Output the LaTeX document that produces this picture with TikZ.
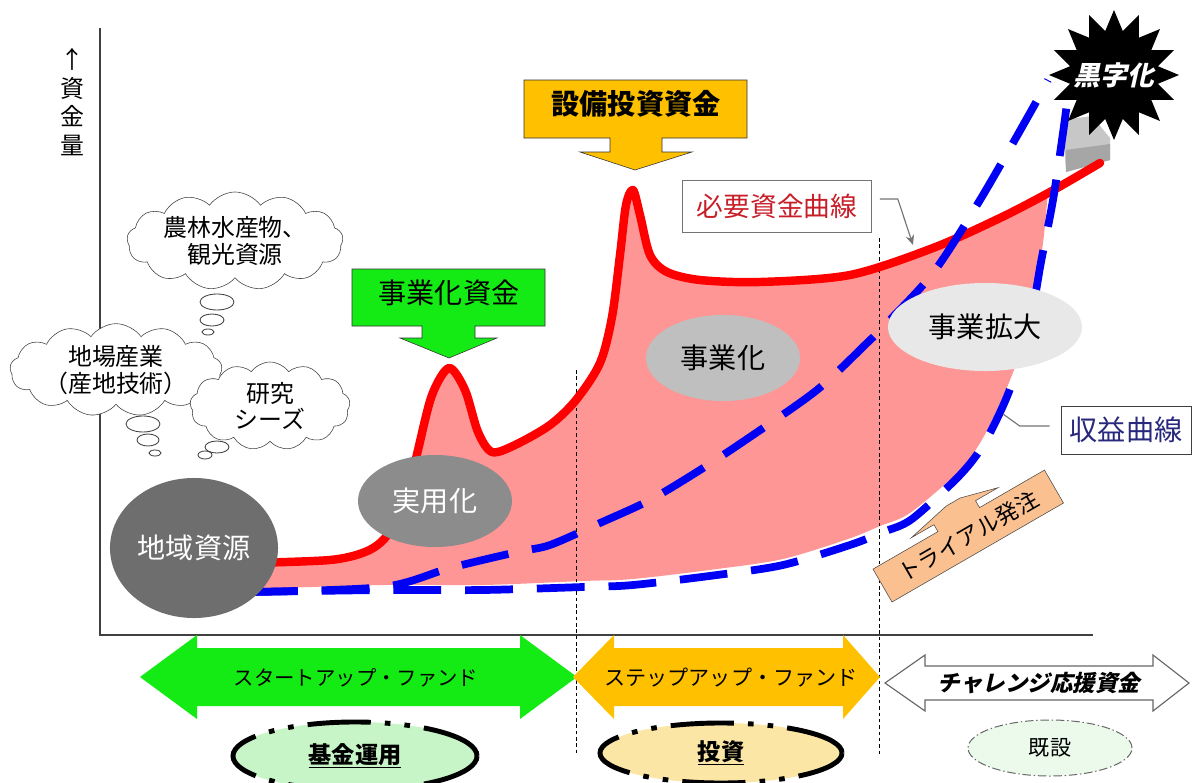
\documentclass[tikz,border=0pt]{standalone}
\usepackage{fontspec}
\setmainfont{Noto Sans CJK JP}
\newfontfamily\slantjp[FakeSlant=0.22]{Noto Sans CJK JP}
\usetikzlibrary{shapes.geometric,shapes.symbols,arrows.meta}
\definecolor{fundgreen}{RGB}{20,235,20}
\definecolor{fundyellow}{RGB}{255,192,0}
\definecolor{pinkfill}{RGB}{255,150,150}
\definecolor{needred}{RGB}{255,0,0}
\definecolor{gainblue}{RGB}{0,0,245}
\definecolor{trialtan}{RGB}{250,192,144}
\definecolor{labelred}{RGB}{200,30,40}
\definecolor{labelnavy}{RGB}{40,40,125}
\begin{document}
\begin{tikzpicture}[x=0.025cm,y=-0.025cm,
  cloudbox/.style={cloud, draw=black!75, fill=white, cloud puffs=13, cloud puff arc=110,
    cloud ignores aspect, inner sep=0pt, align=center, font=\fontsize{17}{19}\selectfont},
  bubble/.style={draw=black!75, fill=white, line width=0.6pt},
  stage/.style={ellipse, inner sep=0pt, font=\fontsize{20}{24}\selectfont},
  bandtext/.style={font=\fontsize{14.5}{17}\selectfont},
  redline/.style={needred, line width=6pt, line cap=round, line join=round},
  blueline/.style={gainblue, line width=5.5pt, dash pattern=on 34pt off 17pt},
  divider/.style={line width=0.6pt, dash pattern=on 2.5pt off 2pt},
  leader/.style={black!55, line width=0.8pt},
  fundring/.style={ellipse, inner sep=0pt, line width=3.5pt,
    dash pattern=on 45pt off 10pt on 4pt off 10pt on 4pt off 10pt},
  ]
  \useasboundingbox (0,0) rectangle (1193,783);

  % funding gap
  \fill[pinkfill] plot[smooth] coordinates {(250,563) (330,560) (365,552) (385,538) (405,505)
      (418,450) (432,395) (449,368) (465,390) (478,432) (492,452) (515,445) (550,425)
      (576,400) (600,363) (612,317) (620,255) (626,205) (633,190) (640,215) (650,255)
      (667,272) (700,280) (760,282) (850,275) (933,248) (1000,218) (1048,193)}
    -- plot[smooth] coordinates {(1044,235) (1037,285) (1026,335) (1008,385) (983,438)
      (958,472) (910,513) (880,526) (848,539) (783,559) (717,569) (633,579) (583,581)
      (483,585) (383,585) (250,589)} -- cycle;

  % axes
  \draw[black!75, line width=1pt] (100,28) -- (100,635) -- (1093,635);
  \node[align=center, font=\fontsize{17}{20.5}\selectfont] (ylabel) at (72,102) {↑\\資\\金\\量};

  \draw[divider] (576,370) -- (576,755);
  \draw[divider] (879,238) -- (879,755);

  % shadow block behind the star
  \fill[black!22] (1062,120) -- (1092,116) -- (1110,138) -- (1110,160) -- (1066,172) -- cycle;
  \fill[black!35] (1066,150) -- (1110,144) -- (1110,160) -- (1066,172) -- cycle;

  % curves
  \draw[redline] plot[smooth] coordinates {(250,563) (330,560) (365,552) (385,538) (405,505)
      (418,450) (432,395) (449,368) (465,390) (478,432) (492,452) (515,445) (550,425)
      (576,400) (600,363) (612,317) (620,255) (626,205) (633,190) (640,215) (650,255)
      (667,272) (700,280) (760,282) (850,275) (933,248) (1000,218) (1050,192) (1100,163)};
  \draw[blueline] plot[smooth] coordinates {(250,592) (383,587) (450,568) (517,552)
      (550,545) (600,523) (650,500) (700,470) (750,437) (817,390) (867,343) (883,327)
      (933,273) (980,200) (1030,113) (1048,80)};
  \draw[blueline] plot[smooth] coordinates {(250,592) (383,590) (483,590) (583,587)
      (633,585) (717,575) (783,565) (850,545) (883,532) (912,519) (960,475) (985,442)
      (1010,389) (1030,322) (1041,262) (1053,200) (1063,133) (1068,95)};

  % stages
  \node[stage, fill=black!57, text=white, minimum width=4.2cm, minimum height=3.5cm]
    (chiiki) at (194,548) {地域資源};
  \node[stage, fill=black!45, text=white, minimum width=3.85cm, minimum height=2.3cm]
    (jitsuyo) at (435,501) {実用化};
  \node[stage, fill=black!25, minimum width=3.85cm, minimum height=2.15cm]
    (jigyo) at (723,358) {事業化};
  \node[stage, fill=black!9, minimum width=4.85cm, minimum height=2.2cm]
    (kakudai) at (985,327) {事業拡大};

  % seeds
  \node[cloudbox, minimum width=5.4cm, minimum height=2.45cm]
    (nourin) at (235,241) {農林水産物、\\観光資源};
  \draw[bubble] (217,302) ellipse [x radius=17, y radius=8];
  \draw[bubble] (212,320) ellipse [x radius=12, y radius=6];
  \draw[bubble] (208,332) ellipse [x radius=6, y radius=3];
  \node[cloudbox, minimum width=5.3cm, minimum height=2.15cm]
    (jiba) at (116,370) {地場産業\\（産地技術）};
  \draw[bubble] (143,424) ellipse [x radius=17, y radius=8];
  \draw[bubble] (148,440) ellipse [x radius=11, y radius=6];
  \draw[bubble] (155,453) ellipse [x radius=6, y radius=3];
  \node[cloudbox, minimum width=4cm, minimum height=2.2cm]
    (kenkyu) at (270,406) {研究\\シーズ};
  \draw[bubble] (217,447) ellipse [x radius=12, y radius=6];
  \draw[bubble] (205,455) ellipse [x radius=7, y radius=4];

  % funding inflows
  \draw[black!80, fill=fundyellow] (524,80) -- (747,80) -- (747,138) -- (662,138)
    -- (662,152) -- (692,152) -- (635,170) -- (580,152) -- (610,152) -- (610,138)
    -- (524,138) -- cycle;
  \node[font=\fontsize{20}{24}\selectfont\bfseries] (setsubi) at (636,104) {設備投資資金};
  \draw[black!80, fill=fundgreen] (352,269) -- (545,269) -- (545,326) -- (475,326)
    -- (475,338) -- (497,338) -- (449,358) -- (400,338) -- (422,338) -- (422,326)
    -- (352,326) -- cycle;
  \node[font=\fontsize{20}{24}\selectfont] (jigyokashikin) at (449,293) {事業化資金};

  % curve labels
  \node[draw=black!55, fill=white, text=labelred, minimum width=4.725cm, minimum height=1.3cm,
    font=\fontsize{19}{22}\selectfont] (hitsuyo) at (777,206) {必要資金曲線};
  \coordinate (hitsuyoTip) at (913,245);
  \draw[leader, -{Stealth[length=7pt,width=6pt]}] ([shift={(8,-7)}]hitsuyo.east)
    -- ++(18,0) -- (hitsuyoTip);
  \node[draw=black!75, fill=white, text=labelnavy, minimum width=3.25cm, minimum height=1.2cm,
    font=\fontsize{20}{24}\selectfont] (shueki) at (1126,430) {収益曲線};
  \coordinate (shuekiEnd) at (1003,414);
  \draw[leader] ([shift={(-11,-4)}]shueki.west) -- ++(-30,0) -- (shuekiEnd);

  % break-even
  \node[star, star points=16, star point ratio=1.45, fill=black, inner sep=0pt,
    minimum size=3.25cm] (kuroji) at (1114,75) {};
  \node[text=white, font=\fontsize{19}{22}\selectfont\slantjp\bfseries]
    (kurojiText) at (kuroji.center) {黒字化};

  % trial order callout
  \begin{scope}[shift={(892,602)}, rotate=30]
    \draw[black!70, fill=trialtan] (0,0) -- (198,0) -- (198,-38) -- (123,-38) -- (123,-46)
      -- (149,-46) -- (111,-56) -- (95,-56) -- (49,-46) -- (75,-46) -- (75,-38)
      -- (0,-38) -- cycle;
    \node[rotate=30, font=\fontsize{16}{19}\selectfont] (trial) at (99,-19) {トライアル発注};
  \end{scope}

  % fund bands
  \fill[fundgreen] (140,677) -- (197,635) -- (197,648) -- (520,648) -- (520,635)
    -- (577,677) -- (520,719) -- (520,706) -- (197,706) -- (197,719) -- cycle;
  \node[bandtext] (startup) at (356,678) {スタートアップ・ファンド};
  \fill[fundyellow] (573,677) -- (614,635) -- (614,648) -- (843,648) -- (843,635)
    -- (880,677) -- (843,719) -- (843,706) -- (614,706) -- (614,719) -- cycle;
  \node[bandtext, font=\fontsize{15}{18}\selectfont] (stepup) at (731,678) {ステップアップ・ファンド};
  \draw[black!60, fill=white, line width=0.8pt] (885,683) -- (925,655) -- (925,666)
    -- (1153,666) -- (1153,655) -- (1189,683) -- (1153,711) -- (1153,700) -- (925,700)
    -- (925,711) -- cycle;
  \node[font=\fontsize{16}{19}\selectfont\slantjp\bfseries] (challenge) at (1039,683) {チャレンジ応援資金};

  \node[fundring, draw=black, fill={rgb,255:red,200;green,245;blue,200},
    minimum width=6.1cm, minimum height=1.7cm, font=\fontsize{16.5}{20}\selectfont\bfseries]
    (kikin) at (355,756) {\underline{基金運用}};
  \node[fundring, draw=black, fill={rgb,255:red,252;green,230;blue,166},
    minimum width=6.05cm, minimum height=1.5cm, font=\fontsize{16.5}{20}\selectfont\bfseries]
    (toshi) at (721,753) {\underline{投資}};
  \node[ellipse, draw=black!60, line width=0.7pt, dash pattern=on 6pt off 2pt on 1pt off 2pt,
    fill={rgb,255:red,235;green,250;blue,235}, minimum width=4.1cm, minimum height=1.4cm,
    font=\fontsize{15}{18}\selectfont] (kisetsu) at (1050,748) {既設};
\end{tikzpicture}
\end{document}
